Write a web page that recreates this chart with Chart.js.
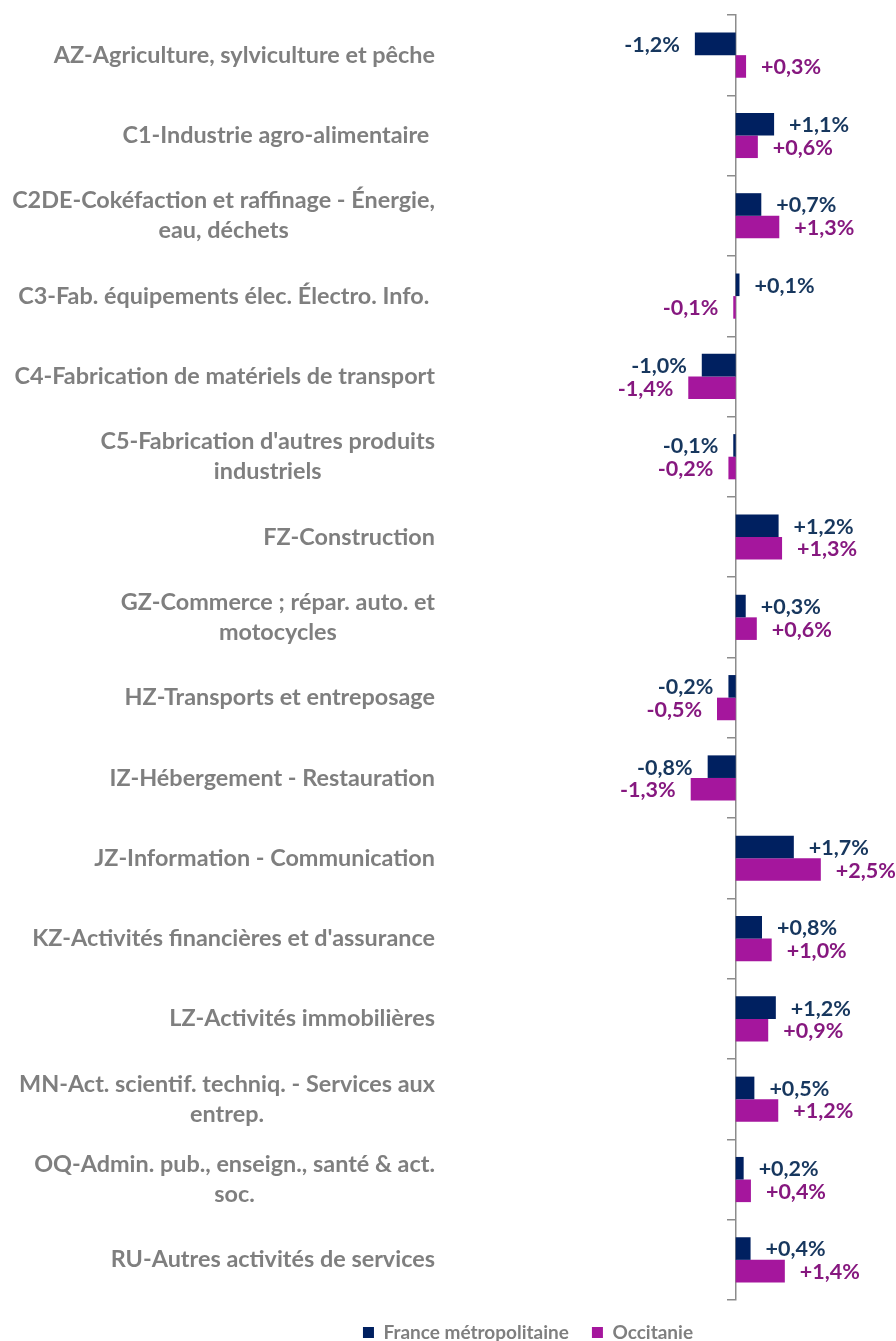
<!DOCTYPE html>
<html lang="fr">
<head>
<meta charset="utf-8">
<title>Évolution de l'emploi par secteur</title>
<script src="https://cdn.jsdelivr.net/npm/chart.js@4.4.1/dist/chart.umd.min.js"></script>
<style>
  html, body { margin: 0; padding: 0; background: #ffffff; }
  #wrap { width: 896px; height: 1341px; position: relative; }
</style>
</head>
<body>
<div id="wrap"><canvas id="sectorChart"></canvas></div>
<script>
// categories (multi-line ones as arrays)
const categories = [
    "AZ-Agriculture, sylviculture et pêche",
    "C1-Industrie agro-alimentaire ",
    ["C2DE-Cokéfaction et raffinage - Énergie,", "eau, déchets"],
    "C3-Fab. équipements élec. Électro. Info. ",
    "C4-Fabrication de matériels de transport",
    ["C5-Fabrication d'autres produits", "industriels"],
    "FZ-Construction",
    ["GZ-Commerce ; répar. auto. et", "motocycles"],
    "HZ-Transports et entreposage",
    "IZ-Hébergement - Restauration",
    "JZ-Information - Communication",
    "KZ-Activités financières et d'assurance",
    "LZ-Activités immobilières",
    ["MN-Act. scientif. techniq. - Services aux", "entrep."],
    ["OQ-Admin. pub., enseign., santé & act.", "soc."],
    "RU-Autres activités de services"
];

// % change
const franceValues = [-1.18, 1.11, 0.74, 0.11, -0.98, -0.07, 1.24, 0.29, -0.21, -0.81, 1.68, 0.76, 1.16, 0.54, 0.23, 0.43];
const occitanieValues = [0.30, 0.64, 1.26, -0.07, -1.37, -0.21, 1.34, 0.61, -0.54, -1.30, 2.46, 1.04, 0.94, 1.23, 0.44, 1.42];

const seriesNames = ["France métropolitaine", "Occitanie"];

const NAVY = '#002060';
const MAGENTA = '#A5169D';
const NAVY_TEXT = '#17375E';
const MAGENTA_TEXT = '#86187F';
const GREY = '#7F7F7F';
const FONT = 'Lato, "Open Sans", sans-serif';

function fmtPct(v) {
    const s = Math.abs(v).toFixed(1).replace('.', ',');
    return (v < 0 ? '-' : '+') + s + '%';
}

// category names drawn at the left, lines centred on the widest one
const categoryLabels = {
    id: 'categoryLabels',
    afterDraw(chart) {
        const ctx = chart.ctx;
        const yScale = chart.scales.y;
        const rightEdge = chart.chartArea.left - 10;
        ctx.save();
        ctx.font = 'bold 23.4px ' + FONT;
        ctx.fillStyle = GREY;
        ctx.textAlign = 'center';
        ctx.textBaseline = 'middle';
        categories.forEach((cat, i) => {
            const lines = Array.isArray(cat) ? cat : [cat];
            const widest = Math.max(...lines.map(l => ctx.measureText(l).width));
            const cx = rightEdge - widest / 2;
            const cy = yScale.getPixelForValue(i);
            const lh = 30;
            lines.forEach((l, k) => {
                ctx.fillText(l, cx, cy + (k - (lines.length - 1) / 2) * lh);
            });
        });
        ctx.restore();
    }
};

// value labels at the end of each bar
const valueLabels = {
    id: 'valueLabels',
    afterDatasetsDraw(chart) {
        const ctx = chart.ctx;
        ctx.save();
        ctx.font = 'bold 21.5px ' + FONT;
        ctx.textBaseline = 'middle';
        chart.data.datasets.forEach((ds, di) => {
            const meta = chart.getDatasetMeta(di);
            ctx.fillStyle = di === 0 ? NAVY_TEXT : MAGENTA_TEXT;
            meta.data.forEach((bar, i) => {
                const v = ds.data[i];
                if (v >= 0) {
                    ctx.textAlign = 'left';
                    ctx.fillText(fmtPct(v), bar.x + 15, bar.y + 1);
                } else {
                    ctx.textAlign = 'right';
                    ctx.fillText(fmtPct(v), bar.x - 15, bar.y + 1);
                }
            });
        });
        ctx.restore();
    }
};

// nudge the legend so its centre sits where the original has it
const legendShift = {
    id: 'legendShift',
    afterLayout(chart) {
        const lg = chart.legend;
        if (!lg) return;
        const shift = 528 - (lg.left + lg.right) / 2;
        lg.left += shift;
        lg.right += shift;
    }
};

const ctx = document.getElementById('sectorChart').getContext('2d');
new Chart(ctx, {
    type: 'bar',
    data: {
        labels: categories,
        datasets: [{
            label: seriesNames[0],
            data: franceValues,
            backgroundColor: NAVY,
            categoryPercentage: 0.5625,
            barPercentage: 1.0
        }, {
            label: seriesNames[1],
            data: occitanieValues,
            backgroundColor: MAGENTA,
            categoryPercentage: 0.5625,
            barPercentage: 1.0
        }]
    },
    options: {
        indexAxis: 'y',
        responsive: true,
        maintainAspectRatio: false,
        animation: false,
        layout: {
            padding: { top: 15, left: 445, right: 16, bottom: 0 }
        },
        scales: {
            x: {
                type: 'linear',
                min: -8.4,
                max: 4.17,
                display: false
            },
            y: {
                type: 'category',
                position: { x: 0 },
                ticks: { display: false },
                grid: {
                    drawOnChartArea: false,
                    drawTicks: true,
                    tickLength: 8,
                    offset: true,
                    color: '#8C8C8C',
                    lineWidth: 1.5
                },
                border: { display: true, color: '#8C8C8C', width: 1.5 }
            }
        },
        plugins: {
            legend: {
                position: 'bottom',
                maxHeight: 41,
                labels: {
                    boxWidth: 11,
                    boxHeight: 11,
                    padding: 23,
                    color: GREY,
                    font: { family: FONT, size: 19, weight: 'bold' }
                }
            },
            tooltip: { enabled: false }
        }
    },
    plugins: [categoryLabels, valueLabels, legendShift]
});
</script>
</body>
</html>
